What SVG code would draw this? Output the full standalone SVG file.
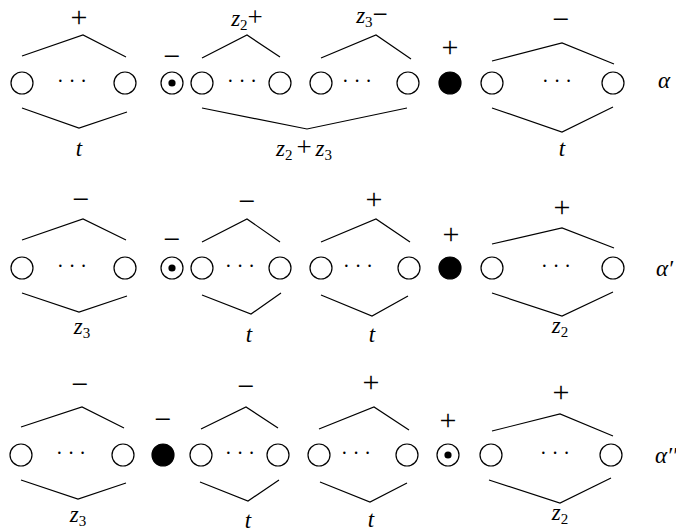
<svg xmlns="http://www.w3.org/2000/svg" width="676" height="532" viewBox="0 0 676 532">
<style>
  .n{fill:#fff;stroke:#000;stroke-width:1.2}
  .b{fill:#000;stroke:#000;stroke-width:1.2}
  .pt{fill:#000}
  .br{fill:none;stroke:#000;stroke-width:1.2;stroke-linejoin:miter}
  text{font-family:"Liberation Serif","DejaVu Serif",serif;fill:#000}
  .v{font-style:italic;font-size:23px;text-anchor:middle}
  .s{font-size:30px;text-anchor:middle}
  .d{font-size:20px;text-anchor:middle}
  .sub{font-style:normal;font-size:15px}
  .up{font-style:normal;font-size:27px}
  .a{font-style:italic;font-size:23px}
</style>
<rect width="676" height="532" fill="#fff"/>

<!-- Row 1: alpha -->
<g id="row1">
  <g id="r1c1"><circle class="n" cx="22" cy="83" r="11"/></g>
  <g id="r1d1"><text class="d" x="72" y="88">· · ·</text></g>
  <g id="r1c2"><circle class="n" cx="125" cy="83" r="11"/></g>
  <g id="r1dot"><circle class="n" cx="172" cy="83" r="11"/><circle class="pt" cx="172" cy="83" r="3.6"/></g>
  <g id="r1c3"><circle class="n" cx="202" cy="83" r="11"/></g>
  <g id="r1d2"><text class="d" x="242" y="88">· · ·</text></g>
  <g id="r1c4"><circle class="n" cx="280" cy="83" r="11"/></g>
  <g id="r1c5"><circle class="n" cx="321" cy="83" r="11"/></g>
  <g id="r1d3"><text class="d" x="357" y="88">· · ·</text></g>
  <g id="r1c6"><circle class="n" cx="408" cy="83" r="11"/></g>
  <g id="r1blk"><circle class="b" cx="450" cy="83" r="11"/></g>
  <g id="r1c7"><circle class="n" cx="492" cy="83" r="11"/></g>
  <g id="r1d4"><text class="d" x="557" y="88">· · ·</text></g>
  <g id="r1c8"><circle class="n" cx="613" cy="83" r="11"/></g>
  <g id="r1labels">
    <text class="s" x="79" y="27">+</text>
    <text class="v" x="79" y="156">t</text>
    <text class="s" x="172" y="66">−</text>
    <text class="v" x="247" y="26">z<tspan class="sub" dy="4">2</tspan><tspan class="up" dy="-4">+</tspan></text>
    <text class="v" x="372" y="23">z<tspan class="sub" dy="4">3</tspan><tspan class="up" dy="-4">−</tspan></text>
    <text class="v" x="304" y="156">z<tspan class="sub" dy="4">2</tspan><tspan class="up" dy="-4" dx="4">+</tspan><tspan dx="4">z</tspan><tspan class="sub" dy="4">3</tspan></text>
    <text class="s" x="450" y="57">+</text>
    <text class="s" x="561" y="29">−</text>
    <text class="v" x="562" y="156">t</text>
    <text class="a" x="658" y="88">α</text>
  </g>
</g>

<!-- Row 2: alpha' -->
<g id="row2">
  <g id="r2c1"><circle class="n" cx="22" cy="268" r="11"/></g>
  <g id="r2d1"><text class="d" x="72" y="273">· · ·</text></g>
  <g id="r2c2"><circle class="n" cx="125" cy="268" r="11"/></g>
  <g id="r2dot"><circle class="n" cx="172" cy="268" r="11"/><circle class="pt" cx="172" cy="268" r="3.6"/></g>
  <g id="r2c3"><circle class="n" cx="202" cy="268" r="11"/></g>
  <g id="r2d2"><text class="d" x="240" y="273">· · ·</text></g>
  <g id="r2c4"><circle class="n" cx="280" cy="268" r="11"/></g>
  <g id="r2c5"><circle class="n" cx="321" cy="268" r="11"/></g>
  <g id="r2d3"><text class="d" x="358" y="273">· · ·</text></g>
  <g id="r2c6"><circle class="n" cx="409" cy="268" r="11"/></g>
  <g id="r2blk"><circle class="b" cx="450" cy="268" r="11"/></g>
  <g id="r2c7"><circle class="n" cx="492" cy="268" r="11"/></g>
  <g id="r2d4"><text class="d" x="556" y="273">· · ·</text></g>
  <g id="r2c8"><circle class="n" cx="613" cy="268" r="11"/></g>
  <g id="r2labels">
    <text class="s" x="81" y="209">−</text>
    <text class="v" x="82" y="334">z<tspan class="sub" dy="4">3</tspan></text>
    <text class="s" x="172" y="249">−</text>
    <text class="s" x="247" y="211">−</text>
    <text class="v" x="249" y="342">t</text>
    <text class="s" x="374" y="209">+</text>
    <text class="v" x="372" y="342">t</text>
    <text class="s" x="451" y="244">+</text>
    <text class="s" x="562" y="217">+</text>
    <text class="v" x="560" y="333">z<tspan class="sub" dy="4">2</tspan></text>
    <text class="a" x="656" y="276">α′</text>
  </g>
</g>

<!-- Row 3: alpha'' -->
<g id="row3">
  <g id="r3c1"><circle class="n" cx="21" cy="455" r="11"/></g>
  <g id="r3d1"><text class="d" x="71" y="460">· · ·</text></g>
  <g id="r3c2"><circle class="n" cx="123" cy="455" r="11"/></g>
  <g id="r3blk"><circle class="b" cx="163" cy="455" r="11"/></g>
  <g id="r3c3"><circle class="n" cx="201" cy="455" r="11"/></g>
  <g id="r3d2"><text class="d" x="240" y="460">· · ·</text></g>
  <g id="r3c4"><circle class="n" cx="278" cy="455" r="11"/></g>
  <g id="r3c5"><circle class="n" cx="319" cy="455" r="11"/></g>
  <g id="r3d3"><text class="d" x="356" y="460">· · ·</text></g>
  <g id="r3c6"><circle class="n" cx="407" cy="455" r="11"/></g>
  <g id="r3dot"><circle class="n" cx="448" cy="455" r="11"/><circle class="pt" cx="448" cy="455" r="3.6"/></g>
  <g id="r3c7"><circle class="n" cx="491" cy="455" r="11"/></g>
  <g id="r3d4"><text class="d" x="555" y="460">· · ·</text></g>
  <g id="r3c8"><circle class="n" cx="611" cy="455" r="11"/></g>
  <g id="r3labels">
    <text class="s" x="80" y="394">−</text>
    <text class="v" x="78" y="522">z<tspan class="sub" dy="4">3</tspan></text>
    <text class="s" x="163" y="429">−</text>
    <text class="s" x="246" y="396">−</text>
    <text class="v" x="248" y="528">t</text>
    <text class="s" x="371" y="392">+</text>
    <text class="v" x="371" y="527">t</text>
    <text class="s" x="448" y="430">+</text>
    <text class="s" x="561" y="402">+</text>
    <text class="v" x="560" y="520">z<tspan class="sub" dy="4">2</tspan></text>
    <text class="a" x="655" y="463">α′′</text>
  </g>
</g>

<!-- Connectors: grouping braces -->
<g id="connectors">
  <polyline class="br" points="22,56 83,35 126,57"/>
  <polyline class="br" points="22,108 79,128 127,112"/>
  <polyline class="br" points="202,58 247,35 280,57"/>
  <polyline class="br" points="321,58 376,35 411,59"/>
  <polyline class="br" points="202,108 307,129 407,108"/>
  <polyline class="br" points="492,61 562,43 614,64"/>
  <polyline class="br" points="492,108 562,132 613,107"/>

  <polyline class="br" points="22,240 83,219 126,240"/>
  <polyline class="br" points="22,293 79,312 127,296"/>
  <polyline class="br" points="202,242 247,219 280,242"/>
  <polyline class="br" points="202,295 251,314 281,293"/>
  <polyline class="br" points="321,242 376,219 410,242"/>
  <polyline class="br" points="321,295 372,316 408,296"/>
  <polyline class="br" points="492,244 562,228 614,248"/>
  <polyline class="br" points="492,293 562,316 613,292"/>

  <polyline class="br" points="21,427 82,407 124,428"/>
  <polyline class="br" points="21,480 78,499 126,483"/>
  <polyline class="br" points="201,429 246,407 278,428"/>
  <polyline class="br" points="200,482 248,501 279,480"/>
  <polyline class="br" points="319,429 374,407 409,430"/>
  <polyline class="br" points="320,482 370,502 407,483"/>
  <polyline class="br" points="492,431 560,414 613,436"/>
  <polyline class="br" points="489,480 560,503 611,478"/>
</g>
</svg>
